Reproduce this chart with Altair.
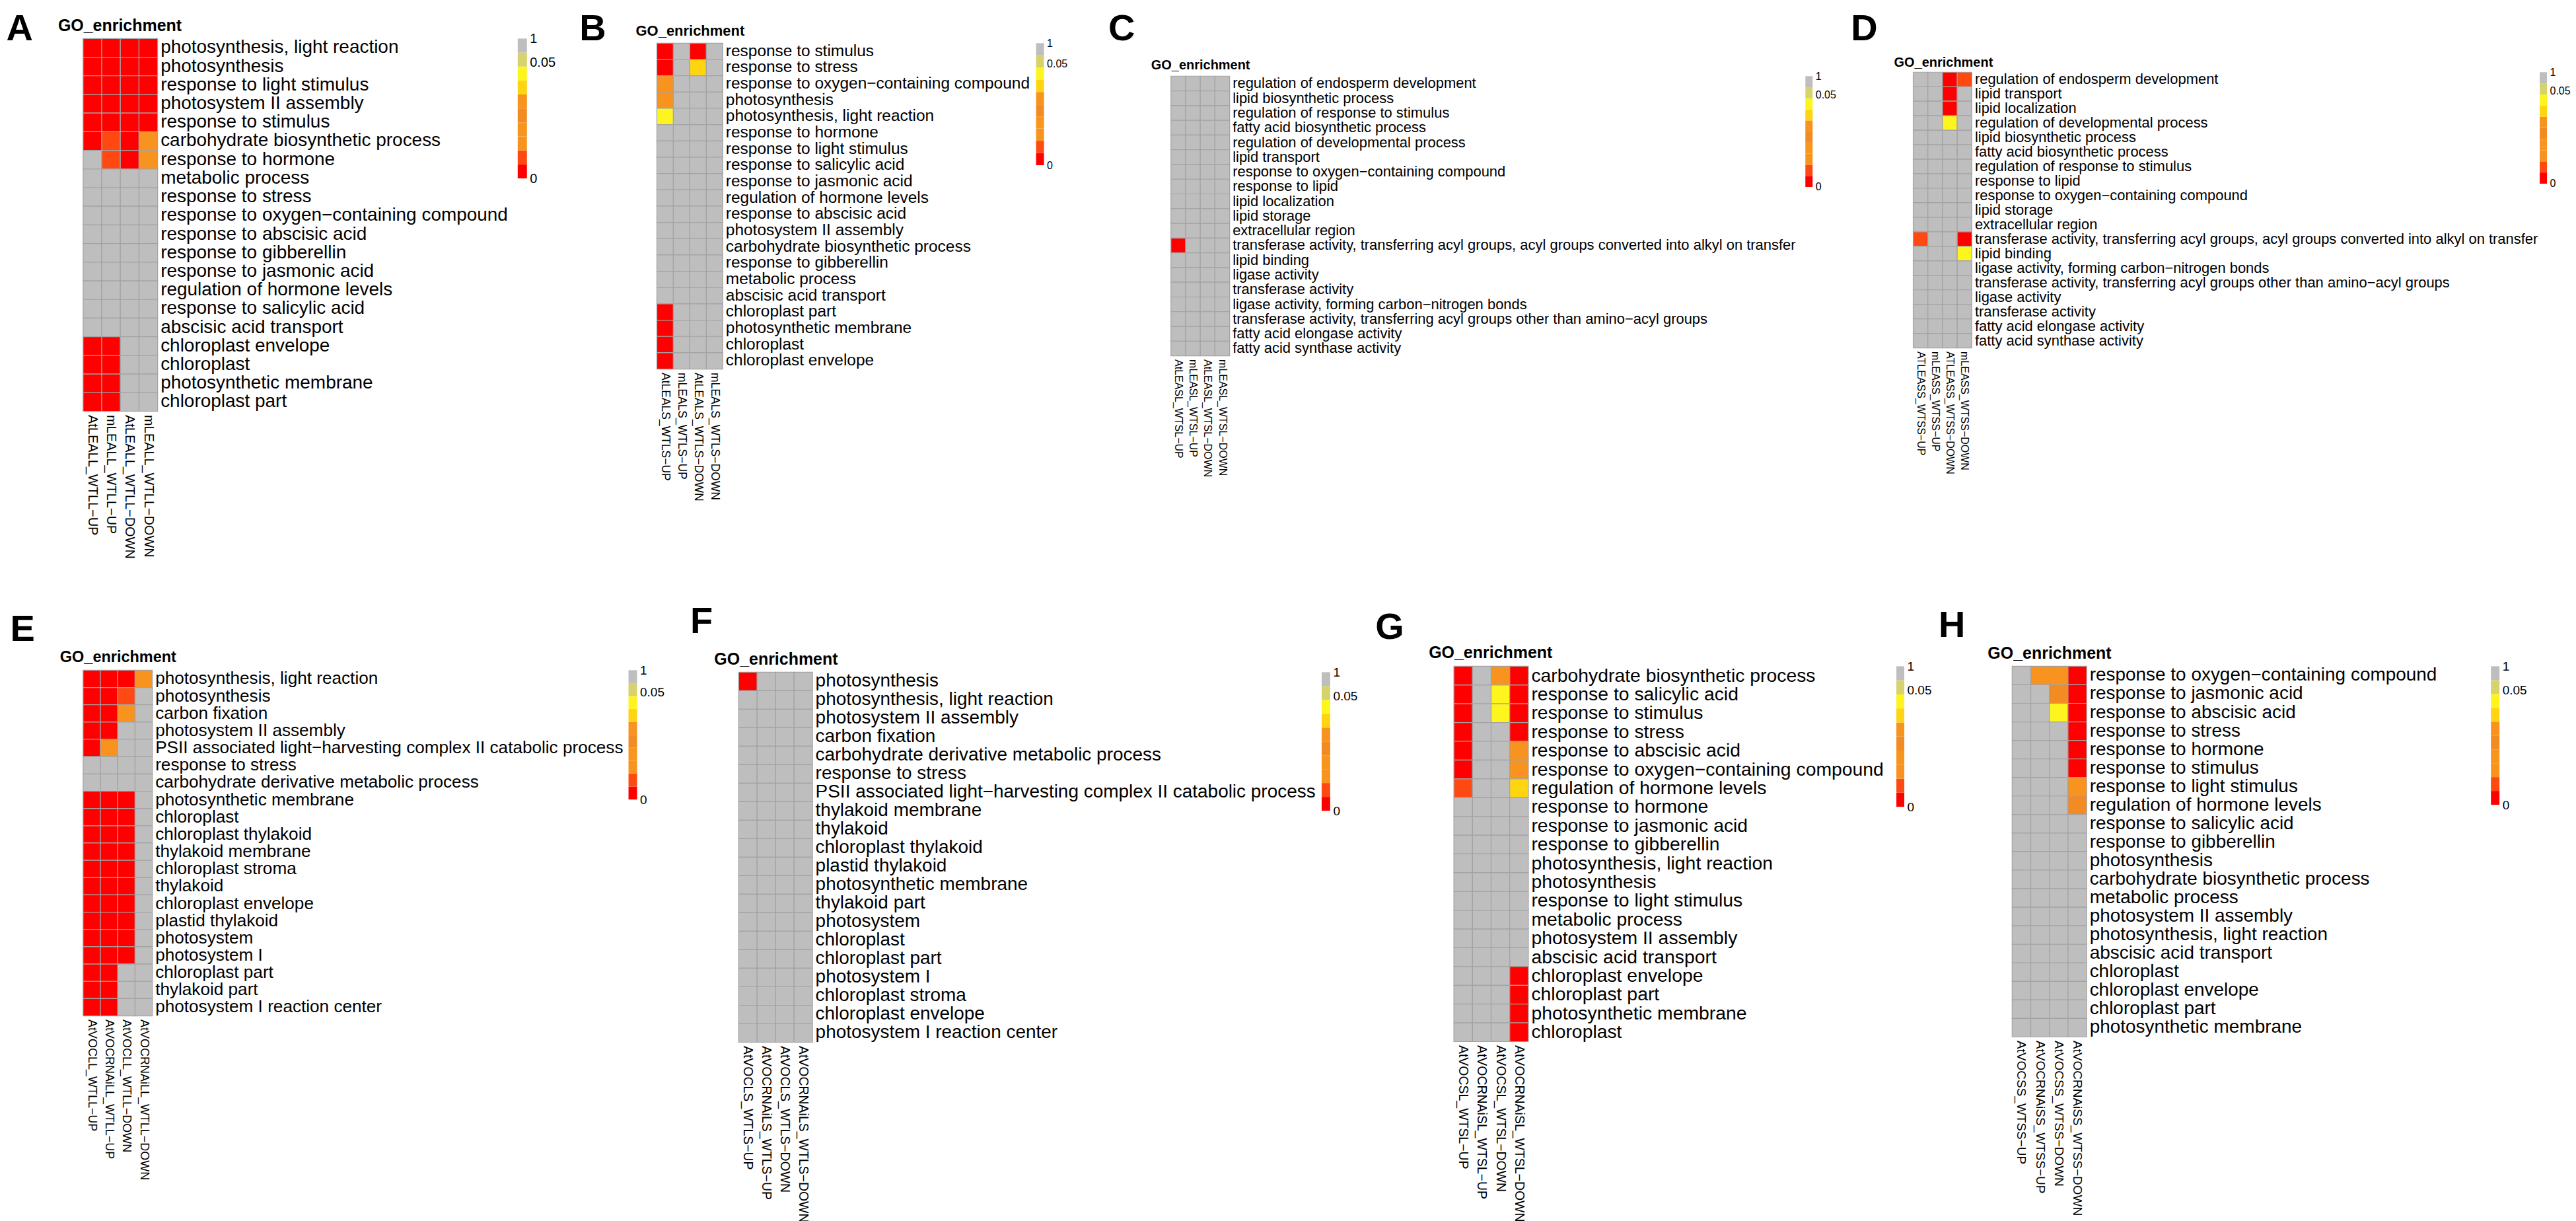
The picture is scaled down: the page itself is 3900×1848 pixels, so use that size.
import altair as alt
import pandas as pd

FONT = "Liberation Sans"

# ---------------- data ----------------
# cell codes: R = red (p~0), r = orange-red, O = orange, o = dark orange,
# G = gold, Y = yellow, - = grey (not significant)
LEVELS = list(range(10))                 # legend bands, bottom (0) to top (9)
CODE_LEVEL = {"R": 0, "r": 1, "O": 2, "o": 4, "G": 6, "Y": 7, "-": 9}
LEGEND_TICKS = [(0, "0"), (8.3, "0.05"), (10, "1")]

A_cols = ["AtLEALL_WTLL−UP", "mLEALL_WTLL−UP", "AtLEALL_WTLL−DOWN", "mLEALL_WTLL−DOWN"]
A_rows = ["photosynthesis, light reaction", "photosynthesis", "response to light stimulus",
          "photosystem II assembly", "response to stimulus", "carbohydrate biosynthetic process",
          "response to hormone", "metabolic process", "response to stress",
          "response to oxygen−containing compound", "response to abscisic acid",
          "response to gibberellin", "response to jasmonic acid", "regulation of hormone levels",
          "response to salicylic acid", "abscisic acid transport", "chloroplast envelope",
          "chloroplast", "photosynthetic membrane", "chloroplast part"]
A_cells = ["RRRR", "RRRR", "RRRR", "RRRR", "RRRR", "RrRO", "-rRO", "----", "----", "----",
           "----", "----", "----", "----", "----", "----", "RR--", "RR--", "RR--", "RR--"]

B_cols = ["AtLEALS_WTLS−UP", "mLEALS_WTLS−UP", "AtLEALS_WTLS−DOWN", "mLEALS_WTLS−DOWN"]
B_rows = ["response to stimulus", "response to stress", "response to oxygen−containing compound",
          "photosynthesis", "photosynthesis, light reaction", "response to hormone",
          "response to light stimulus", "response to salicylic acid", "response to jasmonic acid",
          "regulation of hormone levels", "response to abscisic acid", "photosystem II assembly",
          "carbohydrate biosynthetic process", "response to gibberellin", "metabolic process",
          "abscisic acid transport", "chloroplast part", "photosynthetic membrane",
          "chloroplast", "chloroplast envelope"]
B_cells = ["R-R-", "R-G-", "O---", "O---", "Y---", "----", "----", "----", "----", "----",
           "----", "----", "----", "----", "----", "----", "R---", "R---", "R---", "R---"]

C_cols = ["AtLEASL_WTSL−UP", "mLEASL_WTSL−UP", "AtLEASL_WTSL−DOWN", "mLEASL_WTSL−DOWN"]
C_rows = ["regulation of endosperm development", "lipid biosynthetic process",
          "regulation of response to stimulus", "fatty acid biosynthetic process",
          "regulation of developmental process", "lipid transport",
          "response to oxygen−containing compound", "response to lipid", "lipid localization",
          "lipid storage", "extracellular region",
          "transferase activity, transferring acyl groups, acyl groups converted into alkyl on transfer",
          "lipid binding", "ligase activity", "transferase activity",
          "ligase activity, forming carbon−nitrogen bonds",
          "transferase activity, transferring acyl groups other than amino−acyl groups",
          "fatty acid elongase activity", "fatty acid synthase activity"]
C_cells = ["----"] * 11 + ["R---"] + ["----"] * 7

D_cols = ["ATLEASS_WTSS−UP", "mLEASS_WTSS−UP", "ATLEASS_WTSS−DOWN", "mLEASS_WTSS−DOWN"]
D_rows = ["regulation of endosperm development", "lipid transport", "lipid localization",
          "regulation of developmental process", "lipid biosynthetic process",
          "fatty acid biosynthetic process", "regulation of response to stimulus",
          "response to lipid", "response to oxygen−containing compound", "lipid storage",
          "extracellular region",
          "transferase activity, transferring acyl groups, acyl groups converted into alkyl on transfer",
          "lipid binding", "ligase activity, forming carbon−nitrogen bonds",
          "transferase activity, transferring acyl groups other than amino−acyl groups",
          "ligase activity", "transferase activity", "fatty acid elongase activity",
          "fatty acid synthase activity"]
D_cells = ["--Rr", "--R-", "--R-", "--Y-", "----", "----", "----", "----", "----", "----",
           "----", "r--R", "---Y", "----", "----", "----", "----", "----", "----"]

E_cols = ["AtVOCLL_WTLL−UP", "AtVOCRNAiLL_WTLL−UP", "AtVOCLL_WTLL−DOWN", "AtVOCRNAiLL_WTLL−DOWN"]
E_rows = ["photosynthesis, light reaction", "photosynthesis", "carbon fixation",
          "photosystem II assembly",
          "PSII associated light−harvesting complex II catabolic process", "response to stress",
          "carbohydrate derivative metabolic process", "photosynthetic membrane", "chloroplast",
          "chloroplast thylakoid", "thylakoid membrane", "chloroplast stroma", "thylakoid",
          "chloroplast envelope", "plastid thylakoid", "photosystem", "photosystem I",
          "chloroplast part", "thylakoid part", "photosystem I reaction center"]
E_cells = ["RRRO", "RRr-", "RRO-", "RR--", "RO--", "----", "----", "RRR-", "RRR-", "RRR-",
           "RRR-", "RRR-", "RRR-", "RRR-", "RRR-", "RRR-", "RRR-", "RR--", "RR--", "RR--"]

F_cols = ["AtVOCLS_WTLS−UP", "AtVOCRNAiLS_WTLS−UP", "AtVOCLS_WTLS−DOWN", "AtVOCRNAiLS_WTLS−DOWN"]
F_rows = ["photosynthesis", "photosynthesis, light reaction", "photosystem II assembly",
          "carbon fixation", "carbohydrate derivative metabolic process", "response to stress",
          "PSII associated light−harvesting complex II catabolic process", "thylakoid membrane",
          "thylakoid", "chloroplast thylakoid", "plastid thylakoid", "photosynthetic membrane",
          "thylakoid part", "photosystem", "chloroplast", "chloroplast part", "photosystem I",
          "chloroplast stroma", "chloroplast envelope", "photosystem I reaction center"]
F_cells = ["R---"] + ["----"] * 19

G_cols = ["AtVOCSL_WTSL−UP", "AtVOCRNAiSL_WTSL−UP", "AtVOCSL_WTSL−DOWN", "AtVOCRNAiSL_WTSL−DOWN"]
G_rows = ["carbohydrate biosynthetic process", "response to salicylic acid",
          "response to stimulus", "response to stress", "response to abscisic acid",
          "response to oxygen−containing compound", "regulation of hormone levels",
          "response to hormone", "response to jasmonic acid", "response to gibberellin",
          "photosynthesis, light reaction", "photosynthesis", "response to light stimulus",
          "metabolic process", "photosystem II assembly", "abscisic acid transport",
          "chloroplast envelope", "chloroplast part", "photosynthetic membrane", "chloroplast"]
G_cells = ["R-OR", "R-YR", "R-YR", "R--R", "R--O", "R--O", "r--G", "----", "----", "----",
           "----", "----", "----", "----", "----", "----", "---R", "---R", "---R", "---R"]

H_cols = ["AtVOCSS_WTSS−UP", "AtVOCRNAiSS_WTSS−UP", "AtVOCSS_WTSS−DOWN", "AtVOCRNAiSS_WTSS−DOWN"]
H_rows = ["response to oxygen−containing compound", "response to jasmonic acid",
          "response to abscisic acid", "response to stress", "response to hormone",
          "response to stimulus", "response to light stimulus", "regulation of hormone levels",
          "response to salicylic acid", "response to gibberellin", "photosynthesis",
          "carbohydrate biosynthetic process", "metabolic process", "photosystem II assembly",
          "photosynthesis, light reaction", "abscisic acid transport", "chloroplast",
          "chloroplast envelope", "chloroplast part", "photosynthetic membrane"]
H_cells = ["-OOR", "--oR", "--YR", "---R", "---R", "---R", "---O", "---o", "----", "----",
           "----", "----", "----", "----", "----", "----", "----", "----", "----", "----"]

PANELS = {
    "A": (A_cols, A_rows, A_cells), "B": (B_cols, B_rows, B_cells),
    "C": (C_cols, C_rows, C_cells), "D": (D_cols, D_rows, D_cells),
    "E": (E_cols, E_rows, E_cells), "F": (F_cols, F_rows, F_cells),
    "G": (G_cols, G_rows, G_cells), "H": (H_cols, H_rows, H_cells),
}

# ---------------- style ----------------
PALETTE = ["#FF0000", "#FE4A12", "#F7931E", "#F8951D", "#F28B22", "#F7931E",
           "#FFD411", "#FDF51D", "#D7D36C", "#BEBEBE"]
GRID = "#A3A3A3"

# w/h: heatmap size, yfs/xfs: label sizes, gfs/gdx/goff: GO title, sp: gap to colour bar,
# lw/lh/lfs: colour bar, ldx/ldy: panel letter, vs: gap letter -> heatmap
LAYOUT = {
    "A": dict(w=113, h=565, yfs=28, xfs=20, gfs=25, gdx=-38, goff=-19, sp=546, lw=14, lh=212, lfs=20, ldx=-117, ldy=0, vs=41),
    "B": dict(w=100, h=494, yfs=24.5, xfs=17.5, gfs=22, gdx=-32, goff=-16.5, sp=475, lw=12, lh=185, lfs=16, ldx=-118, ldy=0, vs=48),
    "C": dict(w=89, h=424, yfs=22, xfs=16, gfs=20, gdx=-30, goff=-14.5, sp=873, lw=11, lh=168, lfs=16, ldx=-95.5, ldy=0, vs=98),
    "D": dict(w=89, h=418, yfs=22, xfs=16, gfs=20, gdx=-29, goff=-16.5, sp=861, lw=11, lh=169, lfs=16, ldx=-95, ldy=0, vs=92),
    "E": dict(w=105, h=524, yfs=26.2, xfs=18, gfs=23.5, gdx=-35, goff=-17, sp=722, lw=13, lh=196, lfs=19, ldx=-111, ldy=12, vs=100),
    "F": dict(w=112, h=561, yfs=28, xfs=19.5, gfs=25, gdx=-37, goff=-19, sp=772, lw=13, lh=210, lfs=19, ldx=-74, ldy=0, vs=103),
    "G": dict(w=113, h=569, yfs=28.4, xfs=19.5, gfs=25, gdx=-38, goff=-18, sp=558, lw=12, lh=213, lfs=19, ldx=-119.5, ldy=9, vs=94),
    "H": dict(w=113, h=562, yfs=28, xfs=19, gfs=25, gdx=-37, goff=-19, sp=613, lw=13, lh=210, lfs=19, ldx=-112, ldy=6, vs=94),
}

color_scale = alt.Scale(domain=LEVELS, range=PALETTE)


def heatmap(cols, rows, cells, L):
    recs = []
    for term, codes in zip(rows, cells):
        for sample, c in zip(cols, codes):
            recs.append({"term": term, "sample": sample, "level": CODE_LEVEL[c]})
    df = pd.DataFrame(recs)
    return alt.Chart(df).mark_rect(stroke=GRID, strokeWidth=1.2).encode(
        x=alt.X("sample:N", sort=cols,
                scale=alt.Scale(paddingInner=0, paddingOuter=0),
                axis=alt.Axis(orient="bottom", title=None, labelAngle=90, labelAlign="left",
                              labelBaseline="middle", domain=False, ticks=False, tickSize=0,
                              labelPadding=5, labelFontSize=L["xfs"], labelLimit=3000,
                              labelColor="black", labelFont=FONT, labelOverlap=False)),
        y=alt.Y("term:N", sort=rows,
                scale=alt.Scale(paddingInner=0, paddingOuter=0),
                axis=alt.Axis(orient="right", title=None, domain=False, ticks=False, tickSize=0,
                              labelPadding=4, labelFontSize=L["yfs"], labelLimit=3000,
                              labelColor="black", labelFont=FONT, labelOverlap=False)),
        color=alt.Color("level:O", scale=color_scale, legend=None),
    ).properties(
        width=L["w"], height=L["h"],
        title=alt.TitleParams("GO_enrichment", anchor="start", frame="group", dx=L["gdx"],
                              offset=L["goff"], fontSize=L["gfs"], fontWeight="bold",
                              baseline="bottom", font=FONT, color="black"),
    )


def colorbar(L):
    df = pd.DataFrame({"lo": LEVELS, "hi": [v + 1 for v in LEVELS], "level": LEVELS})
    expr = "''"
    for v, t in LEGEND_TICKS:
        expr = f"datum.value == {v} ? '{t}' : ({expr})"
    return alt.Chart(df).mark_rect().encode(
        y=alt.Y("lo:Q", scale=alt.Scale(domain=[0, 10], nice=False),
                axis=alt.Axis(orient="right", title=None, values=[v for v, _ in LEGEND_TICKS],
                              labelExpr=expr, domain=False, ticks=False, tickSize=0, grid=False,
                              labelPadding=4, labelFontSize=L["lfs"], labelFlush=False,
                              labelOverlap=False, labelBaseline="middle", labelColor="black",
                              labelFont=FONT)),
        y2="hi:Q",
        color=alt.Color("level:O", scale=color_scale, legend=None),
    ).properties(width=L["lw"], height=L["lh"])


def letter(key, L):
    df = pd.DataFrame({"panel": [key]})
    return alt.Chart(df).mark_text(
        align="left", baseline="top", fontSize=56, fontWeight="bold", font=FONT,
        color="black", dx=L["ldx"], dy=L["ldy"],
    ).encode(text="panel:N").properties(width=1, height=1)


def panel(key):
    cols, rows, cells = PANELS[key]
    L = LAYOUT[key]
    body = alt.hconcat(heatmap(cols, rows, cells, L), colorbar(L),
                       spacing=L["sp"], bounds="flush")
    return alt.vconcat(letter(key, L), body, spacing=L["vs"], bounds="flush")


row1 = alt.hconcat(alt.hconcat(alt.hconcat(panel("A"), panel("B"), spacing=36),
                               panel("C"), spacing=61.5), panel("D"), spacing=22)
row2 = alt.hconcat(alt.hconcat(alt.hconcat(panel("E"), panel("F"), spacing=39),
                               panel("G"), spacing=27.5), panel("H"), spacing=10)

chart = alt.vconcat(row1, row2, spacing=66.5).properties(
    padding={"left": 1, "top": 6, "right": 0, "bottom": 0},
    background="white",
).configure(font=FONT).configure_view(stroke=None)

chart.save("out.html", embed_options={"renderer": "svg", "actions": False})
